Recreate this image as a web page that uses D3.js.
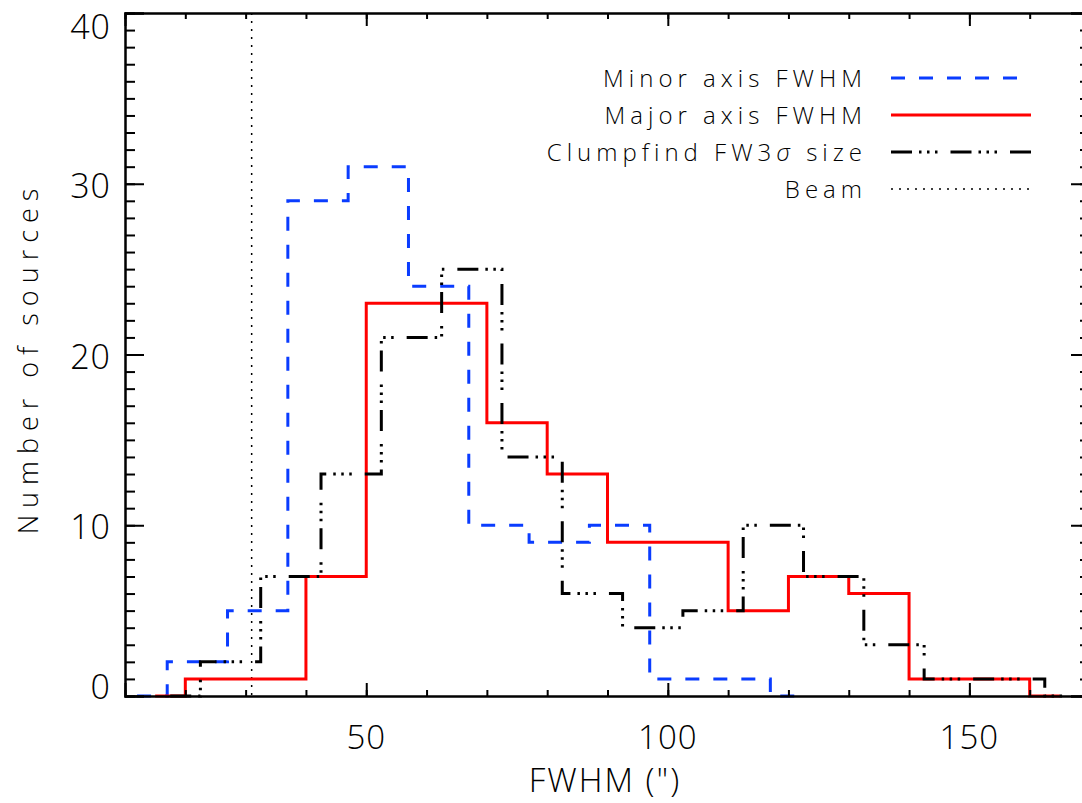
<html>
<script src='https://d3js.org/d3.v7.min.js'></script>
<style>
body { margin: 0; background: white; }
text { font-family: 'Open Sans', 'DejaVu Sans', sans-serif; font-weight: 300; fill: black; }
</style>
<body onload='init()'>
<svg width=1082 height=803></svg>
<script>
// histogram bin centres (arcsec) and counts
var minorCentres = [12, 22, 32, 42, 52, 62, 72, 82, 92, 102, 112, 122];
var minorCounts  = [0, 2, 5, 29, 31, 24, 10, 9, 10, 1, 1, 0];

var majorCentres = [15, 25, 35, 45, 55, 65, 75, 85, 95, 105, 115, 125, 135, 145, 155, 165];
var majorCounts  = [0, 1, 1, 7, 23, 23, 16, 13, 9, 9, 5, 7, 6, 1, 1, 0];

var clumpCentres = [17.5, 27.5, 37.5, 47.5, 57.5, 67.5, 77.5, 87.5, 97.5, 107.5, 117.5, 127.5, 137.5, 147.5, 157.5, 167.5];
var clumpCounts  = [0, 2, 7, 13, 21, 25, 14, 6, 4, 5, 10, 7, 3, 1, 1, 0];

var beamSize = 31;

var xTickLabels = [50, 100, 150];
var yTickLabels = [0, 10, 20, 30, 40];
var legendLabels = ["Minor axis FWHM", "Major axis FWHM", "Clumpfind FW3\u03C3 size", "Beam"];

function init() {
  var svg = d3.select("svg");
  var left = 125, right = 1090, top = 13, bottom = 696;

  var x = d3.scaleLinear().domain([10, 170]).range([left, right]);
  var y = d3.scaleLinear().domain([0, 40]).range([bottom, top]);

  // line styles (IDL-like)
  var styles = [
    {color: "#0a3cff", dash: "14,14", width: 3},
    {color: "#ff0000", dash: null, width: 3},
    {color: "black", dash: "21,7,2.5,5.5,2.5,5.5,2.5,13", width: 3},
    {color: "black", dash: "2,6", width: 1.5}
  ];

  var step = d3.line()
    .x(function(d) { return x(d[0]); })
    .y(function(d) { return y(d[1]); })
    .curve(d3.curveStep);

  var series = [
    d3.zip(minorCentres, minorCounts),
    d3.zip(majorCentres, majorCounts),
    d3.zip(clumpCentres, clumpCounts)
  ];

  // beam line
  svg.append("line")
    .attr("x1", x(beamSize)).attr("x2", x(beamSize))
    .attr("y1", y(40)).attr("y2", y(0))
    .attr("stroke", styles[3].color)
    .attr("stroke-width", styles[3].width)
    .attr("stroke-dasharray", styles[3].dash);

  series.forEach(function(s, i) {
    svg.append("path")
      .attr("d", step(s))
      .attr("fill", "none")
      .attr("stroke", styles[i].color)
      .attr("stroke-width", styles[i].width)
      .attr("stroke-dasharray", styles[i].dash);
  });

  // axes: major tick length differs for x and y like IDL
  var xMinor = d3.range(20, 170, 10);
  var yMinor = d3.range(1, 40, 1);

  var xBottom = d3.axisBottom(x).tickValues(xMinor).tickSize(-6).tickFormat("");
  var xBottomMaj = d3.axisBottom(x).tickValues(xTickLabels).tickSize(-13).tickFormat("");
  var xTop = d3.axisTop(x).tickValues(xMinor).tickSize(-6).tickFormat("");
  var xTopMaj = d3.axisTop(x).tickValues(xTickLabels).tickSize(-13).tickFormat("");
  var yLeft = d3.axisLeft(y).tickValues(yMinor).tickSize(-10).tickFormat("");
  var yLeftMaj = d3.axisLeft(y).tickValues(yTickLabels).tickSize(-19).tickFormat("");
  var yRight = d3.axisRight(y).tickValues(yMinor).tickSize(-10).tickFormat("");
  var yRightMaj = d3.axisRight(y).tickValues(yTickLabels).tickSize(-19).tickFormat("");

  var axes = [
    [xBottom, "translate(0," + bottom + ")"], [xBottomMaj, "translate(0," + bottom + ")"],
    [xTop, "translate(0," + top + ")"], [xTopMaj, "translate(0," + top + ")"],
    [yLeft, "translate(" + left + ",0)"], [yLeftMaj, "translate(" + left + ",0)"],
    [yRight, "translate(" + right + ",0)"], [yRightMaj, "translate(" + right + ",0)"]
  ];
  axes.forEach(function(a) {
    var g = svg.append("g").attr("transform", a[1]).call(a[0]);
    g.selectAll("path").attr("stroke", "black").attr("stroke-width", 2);
    g.selectAll("line").attr("stroke", "black").attr("stroke-width", 2);
  });

  // tick labels
  svg.selectAll(".xlab").data(xTickLabels).enter().append("text")
    .attr("x", function(d) { return x(d); })
    .attr("y", 749)
    .attr("text-anchor", "middle")
    .style("font-size", "33px")
    .style("letter-spacing", "1px")
    .text(function(d) { return d; });

  svg.selectAll(".ylab").data(yTickLabels).enter().append("text")
    .attr("x", 111)
    .attr("y", function(d) { return Math.max(27, Math.min(687, y(d) + 2)) + 12; })
    .attr("text-anchor", "end")
    .style("font-size", "34px")
    .style("letter-spacing", "1px")
    .text(function(d) { return d; });

  // axis titles
  svg.append("text")
    .attr("x", 605).attr("y", 792)
    .attr("text-anchor", "middle")
    .style("font-size", "33px")
    .style("letter-spacing", "2px")
    .text("FWHM (\")");

  svg.append("text")
    .attr("transform", "translate(38,358) rotate(-90)")
    .attr("text-anchor", "middle")
    .style("font-size", "27px")
    .style("letter-spacing", "7px")
    .text("Number of sources");

  // legend
  var rows = [78, 115, 152, 189];
  legendLabels.forEach(function(lab, i) {
    var t = svg.append("text")
      .attr("x", 867).attr("y", rows[i] + 9)
      .attr("text-anchor", "end")
      .style("font-size", "24px")
      .style("letter-spacing", "5px");
    if (i == 2) {
      t.append("tspan").text("Clumpfind FW3");
      t.append("tspan").style("font-style", "italic").text("\u03C3");
      t.append("tspan").text(" size");
    } else {
      t.text(lab);
    }
    svg.append("line")
      .attr("x1", 891).attr("x2", i == 0 ? 1017 : 1031)
      .attr("y1", rows[i]).attr("y2", rows[i])
      .attr("stroke", styles[i].color)
      .attr("stroke-width", styles[i].width)
      .attr("stroke-dasharray", styles[i].dash);
  });
}
</script>
</body>
</html>
